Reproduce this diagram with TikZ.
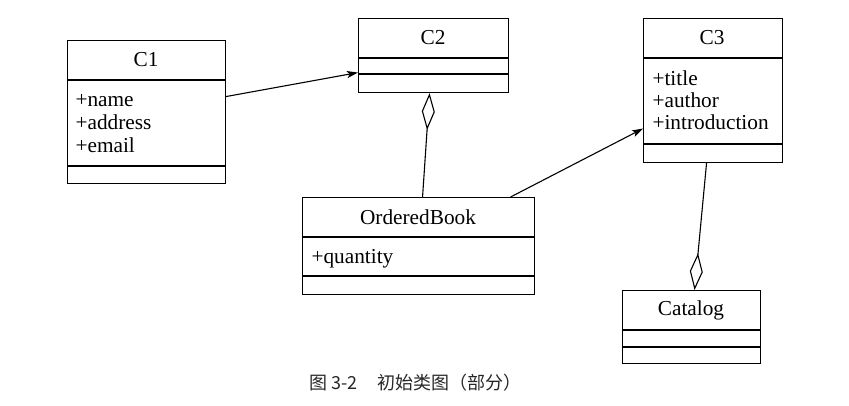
\documentclass[tikz,border=0pt]{standalone}
\usepackage{fontspec}
\setmainfont{Liberation Serif}
\newfontfamily\cjk{Noto Sans CJK SC}
\usetikzlibrary{arrows.meta}
\begin{document}
\begin{tikzpicture}[x=1pt,y=-1pt,line width=1.1pt,
  classbox/.style={draw, inner sep=0pt, anchor=north west},
  ttl/.style={font=\fontsize{21.3}{23}\selectfont, inner sep=0pt},
  attr/.style={font=\fontsize{21.3}{23}\selectfont, inner sep=0pt, anchor=base west},
  arr/.style={-{Stealth[length=11pt,width=7pt,inset=2.5pt]}},
  agg/.style={{Diamond[open,length=37pt,width=13pt]}-}]
\useasboundingbox (0,0) rectangle (849,405);
% C1
\node[classbox, minimum width=158pt, minimum height=143pt] (c1) at (67,40) {};
\draw (c1.west |- 0,80) -- (c1.east |- 0,80);
\draw (c1.west |- 0,166) -- (c1.east |- 0,166);
\node[ttl] (c1t) at (146,60) {C1};
\node[attr] (c1a) at (75,106) {+name};
\node[attr] (c1b) at (75,129) {+address};
\node[attr] (c1c) at (75,152) {+email};
% C2
\node[classbox, minimum width=150pt, minimum height=74pt] (c2) at (358,18) {};
\draw (c2.west |- 0,58) -- (c2.east |- 0,58);
\draw (c2.west |- 0,74) -- (c2.east |- 0,74);
\node[ttl] (c2t) at (433,38) {C2};
% OrderedBook
\node[classbox, minimum width=232pt, minimum height=97pt] (ob) at (302,197) {};
\draw (ob.west |- 0,237) -- (ob.east |- 0,237);
\draw (ob.west |- 0,276) -- (ob.east |- 0,276);
\node[ttl] (obt) at (418,217) {OrderedBook};
\node[attr] (oba) at (311,263) {+quantity};
% C3
\node[classbox, minimum width=139pt, minimum height=144pt] (c3) at (643,18) {};
\draw (c3.west |- 0,58) -- (c3.east |- 0,58);
\draw (c3.west |- 0,144) -- (c3.east |- 0,144);
\node[ttl] (c3t) at (712,38) {C3};
\node[attr] (c3a) at (652,85) {+title};
\node[attr] (c3b) at (652,107) {+author};
\node[attr] (c3c) at (652,129) {+introduction};
% Catalog
\node[classbox, minimum width=138pt, minimum height=73pt] (cat) at (622,290) {};
\draw (cat.west |- 0,330) -- (cat.east |- 0,330);
\draw (cat.west |- 0,347) -- (cat.east |- 0,347);
\node[ttl] (catt) at (691,310) {Catalog};
% connectors
\draw[arr] ([yshift=15.5pt]c1.east) -- ([yshift=-17pt]c2.west);
\draw[arr] ([xshift=92pt]ob.north) -- ([yshift=-38pt]c3.west);
\draw[agg] ([xshift=-4pt]c2.south) -- ([xshift=4pt]ob.north);
\draw[agg] ([xshift=3pt]cat.north) -- ([xshift=-6.5pt]c3.south);
% caption
\node[font=\cjk\fontsize{18}{20}\selectfont, inner sep=0pt, text=black!85] (cap) at (415.5,383) {图 3-2\hspace{20pt}初始类图（部分）};
\end{tikzpicture}
\end{document}
